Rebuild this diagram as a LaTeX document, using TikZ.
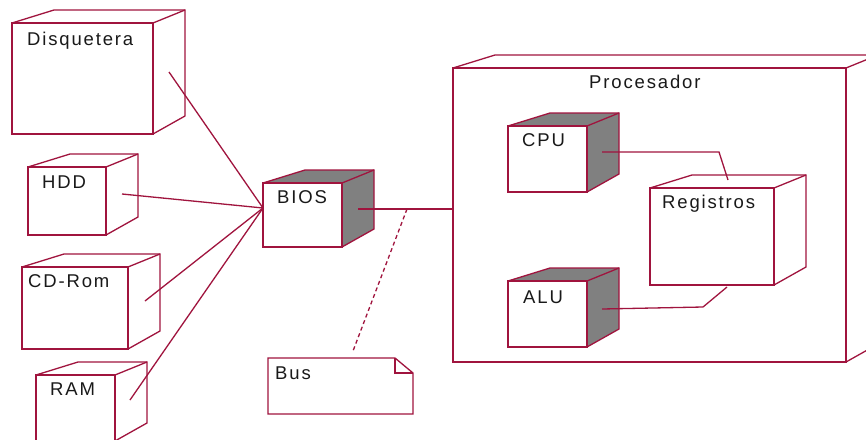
\documentclass[tikz,border=0pt]{standalone}
\usepackage{fontspec}
\setmainfont{Liberation Sans}[LetterSpace=10]
\definecolor{rose}{RGB}{160,20,62}
\definecolor{cubegrey}{RGB}{128,128,128}
\tikzset{
  edge/.style={draw=rose, line width=1.3pt},
  thickedge/.style={draw=rose, line width=2.6pt},
  front/.style={draw=rose, fill=white, line width=1.3pt, inner sep=0pt, outer sep=0pt, rectangle},
  lbl/.style={anchor=base west, inner sep=0pt, font=\fontsize{18.5}{22}\selectfont, text=black!90},
  busline/.style={draw=rose, line width=1.3pt, dash pattern=on 4pt off 3pt},
}
% #1 name, #2 x1, #3 y1, #4 x2, #5 y2, #6 side fill
\newcommand\umlcube[6]{%
  \fill[#6] (#2,#3) -- ({#2+42},{#3-13}) -- ({#4+32},{#3-13}) -- ({#4+32},{#5-18}) -- (#4,#5) -- cycle;
  \draw[edge, line join=miter] (#2,#3) -- ({#2+42},{#3-13}) -- ({#4+32},{#3-13}) -- ({#4+32},{#5-18}) -- (#4,#5);
  \draw[edge] (#4,#3) -- ({#4+32},{#3-13});
  \node[front, minimum width={(#4-#2)*1pt}, minimum height={(#5-#3)*1pt}] (#1) at ({(#2+#4)/2},{(#3+#5)/2}) {};
  \draw[thickedge] (#1.north east) -- (#1.south east);
}
\begin{document}
\begin{tikzpicture}[x=1pt, y=-1pt]
\useasboundingbox (0,0) rectangle (866,439);
\fill[white] (0,0) rectangle (866,439);

% left devices
\umlcube{disq}{12}{23}{153}{134}{white}
\umlcube{hdd}{28}{167}{106}{235}{white}
\umlcube{cdrom}{22}{267}{128}{349}{white}
\umlcube{ram}{36}{375}{115}{441}{white}
\umlcube{bios}{263}{183}{342}{247}{cubegrey}

% processor and contents
\umlcube{proc}{453}{68}{846}{362}{white}
\umlcube{cpu}{508}{126}{587}{192}{cubegrey}
\umlcube{reg}{650}{188}{774}{285}{white}
\umlcube{alu}{508}{281}{587}{347}{cubegrey}

% labels
\node[lbl] (disq-t) at (27,45) {Disquetera};
\node[lbl] (hdd-t) at (42,188) {HDD};
\node[lbl] (cdrom-t) at (28,287) {CD-Rom};
\node[lbl] (ram-t) at (50,395) {RAM};
\node[lbl] (bios-t) at (277,203) {BIOS};
\node[lbl] (proc-t) at (589,88) {Procesador};
\node[lbl] (cpu-t) at (522,146) {CPU};
\node[lbl] (reg-t) at (662,208) {Registros};
\node[lbl] (alu-t) at (523,303) {ALU};

% Bus note
\node[inner sep=0pt, outer sep=0pt, minimum width=145pt, minimum height=56pt] (bus) at (340.5,386) {};
\draw[edge, fill=white, line join=miter] (bus.north west) -- ([xshift=-18pt]bus.north east) -- ([yshift=-15pt]bus.north east) -- (bus.south east) -- (bus.south west) -- cycle;
\draw[edge, line join=miter] ([xshift=-18pt]bus.north east) -- ([xshift=-18pt,yshift=-15pt]bus.north east) -- ([yshift=-15pt]bus.north east);
\node[lbl] (bus-t) at (275,379) {Bus};

% connector end points
\coordinate (disq-c) at (169,72);
\coordinate (hdd-c) at (122,194);
\coordinate (cdrom-c) at (145,301);
\coordinate (ram-c) at (130,400);
\coordinate (bios-in) at (263,208);
\coordinate (bios-out) at (358,209);
\coordinate (bus-j) at (407,209);
\coordinate (bus-end) at (353,351);
\coordinate (cpu-c) at (602,152);
\coordinate (cpu-k) at (719,152);
\coordinate (reg-top) at (728,180);
\coordinate (alu-c) at (602,309);
\coordinate (alu-k) at (703,307);
\coordinate (reg-bot) at (727,287);

% connectors
\draw[edge] (disq-c) -- (bios-in);
\draw[edge] (hdd-c) -- (bios-in);
\draw[edge] (cdrom-c) -- (bios-in);
\draw[edge] (ram-c) -- (bios-in);
\draw[edge] (bios-out) -- (bios-out -| proc.west);
\draw[busline] (bus-j) -- (bus-end);
\draw[edge] (cpu-c) -- (cpu-k) -- (reg-top);
\draw[edge] (alu-c) -- (alu-k) -- (reg-bot);
\end{tikzpicture}
\end{document}
